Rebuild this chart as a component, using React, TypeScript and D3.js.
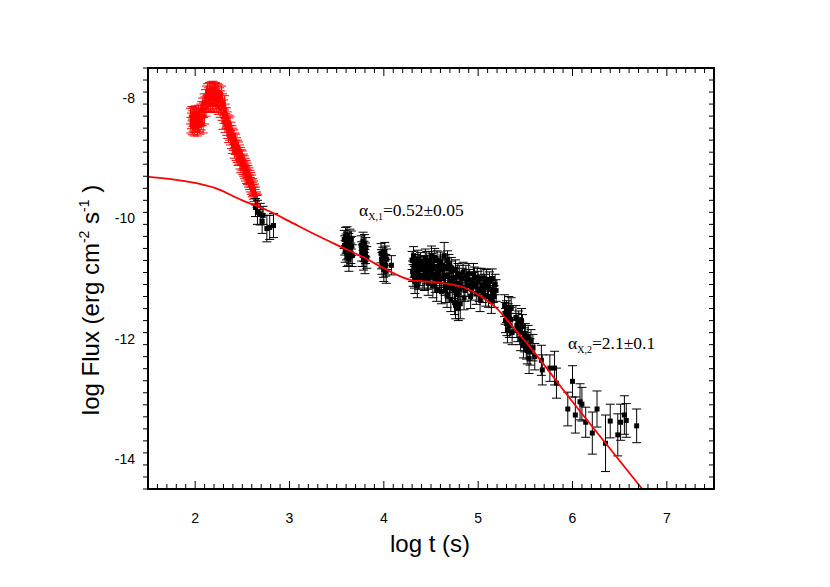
import React from "react";
import * as d3 from "d3";

// early flare (red): [log t, log F, error]
const flarePoints: [number, number, number][] = [
  [1.95, -8.3, 0.13], [1.955, -8.45, 0.13], [1.96, -8.38, 0.13], [1.965, -8.26, 0.12],
  [1.97, -8.48, 0.13], [1.975, -8.34, 0.13], [1.98, -8.42, 0.13], [1.985, -8.28, 0.12],
  [1.99, -8.5, 0.13], [1.995, -8.36, 0.13], [2.0, -8.25, 0.12], [2.005, -8.44, 0.13],
  [2.01, -8.32, 0.13], [2.015, -8.4, 0.13], [2.02, -8.27, 0.12], [2.025, -8.5, 0.13],
  [2.03, -8.35, 0.13], [2.035, -8.24, 0.12], [2.04, -8.43, 0.13], [2.045, -8.31, 0.13],
  [2.05, -8.47, 0.13], [2.055, -8.29, 0.12], [2.06, -8.22, 0.12], [2.065, -8.4, 0.13],
  [2.07, -8.18, 0.12], [2.075, -8.33, 0.13], [2.08, -8.12, 0.12], [2.085, -8.45, 0.13],
  [2.09, -8.2, 0.12], [2.095, -8.05, 0.12], [2.1, -8.3, 0.13],
  [2.105, -8.1, 0.12], [2.11, -7.98, 0.12], [2.115, -8.18, 0.12], [2.12, -7.92, 0.12],
  [2.125, -8.08, 0.12], [2.13, -7.88, 0.12], [2.135, -8.05, 0.12], [2.14, -7.95, 0.12],
  [2.145, -8.12, 0.12], [2.15, -7.86, 0.12], [2.155, -8.02, 0.12], [2.16, -7.92, 0.12],
  [2.165, -8.1, 0.12], [2.17, -7.85, 0.12], [2.175, -8.0, 0.12], [2.18, -7.9, 0.12],
  [2.185, -8.08, 0.12], [2.19, -7.84, 0.12], [2.195, -7.98, 0.12], [2.2, -8.1, 0.12],
  [2.205, -7.88, 0.12], [2.21, -8.02, 0.12], [2.215, -7.86, 0.12], [2.22, -8.06, 0.12],
  [2.225, -7.92, 0.12], [2.23, -8.12, 0.12], [2.235, -7.88, 0.12], [2.24, -8.0, 0.12],
  [2.245, -8.15, 0.12], [2.25, -7.9, 0.12], [2.255, -8.05, 0.12], [2.26, -7.95, 0.12],
  [2.265, -8.2, 0.12], [2.27, -8.0, 0.12], [2.275, -8.12, 0.12], [2.28, -7.92, 0.12],
  [2.285, -8.25, 0.12], [2.29, -8.05, 0.12], [2.295, -8.4, 0.12], [2.3, -8.15, 0.12],
  [2.305, -8.3, 0.12], [2.31, -8.08, 0.12], [2.315, -8.45, 0.12], [2.32, -8.22, 0.12],
  [2.325, -8.38, 0.12], [2.33, -8.28, 0.12], [2.335, -8.5, 0.12], [2.34, -8.35, 0.12],
  [2.345, -8.55, 0.12], [2.35, -8.4, 0.12], [2.355, -8.62, 0.12], [2.36, -8.45, 0.12],
  [2.365, -8.58, 0.12], [2.37, -8.42, 0.12], [2.375, -8.66, 0.12], [2.38, -8.52, 0.12],
  [2.385, -8.72, 0.12], [2.39, -8.58, 0.12], [2.395, -8.8, 0.12], [2.4, -8.62, 0.12],
  [2.405, -8.75, 0.12], [2.41, -8.65, 0.12], [2.415, -8.88, 0.12], [2.42, -8.7, 0.12],
  [2.425, -8.82, 0.12], [2.43, -8.72, 0.12], [2.435, -8.92, 0.12], [2.44, -8.78, 0.12],
  [2.445, -8.95, 0.12], [2.45, -8.82, 0.12], [2.455, -9.0, 0.12], [2.46, -8.85, 0.12],
  [2.465, -8.98, 0.12], [2.47, -8.9, 0.12], [2.475, -9.06, 0.12], [2.48, -8.94, 0.12],
  [2.485, -9.12, 0.12], [2.49, -8.98, 0.12], [2.495, -9.08, 0.12], [2.5, -9.0, 0.12],
  [2.505, -9.15, 0.12], [2.51, -9.05, 0.12], [2.515, -9.18, 0.12], [2.52, -9.08, 0.12],
  [2.525, -9.22, 0.12], [2.53, -9.12, 0.12], [2.535, -9.26, 0.12], [2.54, -9.16, 0.12],
  [2.545, -9.3, 0.12], [2.55, -9.2, 0.12], [2.555, -9.32, 0.12], [2.56, -9.24, 0.12],
  [2.565, -9.36, 0.12], [2.57, -9.28, 0.12], [2.575, -9.4, 0.12], [2.58, -9.32, 0.12],
  [2.585, -9.44, 0.12], [2.59, -9.36, 0.12], [2.595, -9.48, 0.12], [2.6, -9.4, 0.12],
  [2.605, -9.52, 0.12], [2.61, -9.46, 0.12], [2.615, -9.56, 0.12], [2.62, -9.5, 0.12],
  [2.625, -9.6, 0.12], [2.63, -9.55, 0.12], [2.635, -9.64, 0.12], [2.64, -9.6, 0.12],
  [2.645, -9.68, 0.1], [2.65, -9.66, 0.1], [2.655, -9.72, 0.1], [2.66, -9.7, 0.1],
];

// X-ray afterglow (black): [log t, log F, error]
const xrtPoints: [number, number, number][] = [
  [2.64, -9.82, 0.15], [2.66, -9.9, 0.2], [2.69, -9.93, 0.18], [2.71, -10.05, 0.2],
  [2.72, -9.95, 0.15], [2.76, -10.17, 0.22], [2.79, -10.15, 0.2], [2.83, -10.12, 0.2],
  [3.58, -10.35, 0.15], [3.585, -10.45, 0.16], [3.59, -10.55, 0.18], [3.595, -10.3, 0.15],
  [3.6, -10.42, 0.16], [3.605, -10.52, 0.17], [3.61, -10.62, 0.18], [3.61, -10.28, 0.14],
  [3.615, -10.38, 0.15], [3.62, -10.5, 0.17], [3.625, -10.6, 0.18], [3.63, -10.4, 0.15],
  [3.63, -10.68, 0.2], [3.64, -10.33, 0.15], [3.645, -10.48, 0.16], [3.65, -10.58, 0.17],
  [3.655, -10.36, 0.15], [3.66, -10.46, 0.16], [3.665, -10.62, 0.18],
  [3.76, -10.45, 0.16], [3.765, -10.55, 0.16], [3.77, -10.62, 0.18], [3.78, -10.38, 0.15],
  [3.785, -10.68, 0.18], [3.79, -10.55, 0.17], [3.795, -10.42, 0.15], [3.8, -10.72, 0.2],
  [3.805, -10.58, 0.17], [3.81, -10.48, 0.16], [3.82, -10.65, 0.18],
  [3.97, -10.58, 0.16], [3.975, -10.68, 0.16], [3.98, -10.75, 0.18], [3.99, -10.65, 0.17],
  [3.995, -10.8, 0.18], [4.0, -10.85, 0.2], [4.01, -10.55, 0.15], [4.015, -10.62, 0.16],
  [4.02, -10.78, 0.18], [4.025, -10.88, 0.2], [4.03, -10.68, 0.17], [4.08, -10.78, 0.16],
  [4.3, -10.7, 0.15], [4.305, -10.88, 0.17], [4.31, -10.95, 0.18], [4.315, -10.62, 0.15],
  [4.32, -10.82, 0.16], [4.325, -10.98, 0.18], [4.33, -11.05, 0.2], [4.34, -10.75, 0.15],
  [4.345, -10.85, 0.16], [4.35, -10.9, 0.17], [4.355, -11.12, 0.2], [4.36, -10.68, 0.15],
  [4.365, -10.8, 0.16], [4.37, -11.0, 0.18], [4.38, -10.85, 0.16], [4.385, -10.95, 0.17],
  [4.39, -10.72, 0.15], [4.405, -10.78, 0.16], [4.415, -10.98, 0.18], [4.42, -10.8, 0.16],
  [4.43, -11.02, 0.18], [4.435, -10.85, 0.17], [4.44, -10.66, 0.15], [4.45, -10.92, 0.17],
  [4.455, -10.7, 0.15], [4.46, -10.78, 0.16], [4.465, -11.0, 0.18], [4.47, -11.08, 0.2],
  [4.48, -10.7, 0.15], [4.485, -10.8, 0.16], [4.49, -10.88, 0.17], [4.5, -10.98, 0.18],
  [4.505, -10.62, 0.16], [4.51, -10.74, 0.16], [4.52, -11.12, 0.2], [4.525, -10.95, 0.17],
  [4.53, -10.84, 0.16], [4.54, -10.65, 0.15], [4.545, -11.05, 0.18], [4.55, -10.95, 0.17],
  [4.56, -11.18, 0.2], [4.565, -10.7, 0.16], [4.57, -10.8, 0.16], [4.58, -10.9, 0.17],
  [4.585, -10.82, 0.16], [4.59, -11.05, 0.18], [4.6, -10.72, 0.16], [4.605, -11.0, 0.18],
  [4.61, -11.22, 0.2], [4.62, -10.86, 0.17], [4.625, -10.78, 0.17], [4.63, -10.98, 0.17],
  [4.64, -10.62, 0.22], [4.645, -10.95, 0.17], [4.65, -11.1, 0.18], [4.655, -11.2, 0.2],
  [4.66, -10.82, 0.16], [4.67, -11.28, 0.2], [4.675, -10.7, 0.16], [4.68, -10.94, 0.17],
  [4.69, -10.76, 0.16], [4.695, -11.15, 0.18], [4.7, -11.05, 0.18], [4.71, -11.35, 0.2],
  [4.715, -10.82, 0.17], [4.72, -10.88, 0.17], [4.73, -11.15, 0.18], [4.735, -11.02, 0.18],
  [4.74, -10.98, 0.17], [4.75, -11.4, 0.2], [4.755, -11.2, 0.2], [4.76, -10.85, 0.16],
  [4.76, -11.45, 0.22], [4.77, -11.08, 0.18], [4.78, -11.25, 0.2], [4.785, -10.92, 0.17],
  [4.79, -11.5, 0.2], [4.8, -10.95, 0.17], [4.805, -11.18, 0.18], [4.81, -11.42, 0.25],
  [4.82, -11.12, 0.18], [4.83, -11.0, 0.17], [4.84, -10.9, 0.17], [4.85, -11.32, 0.2],
  [4.86, -11.2, 0.18], [4.87, -10.95, 0.17], [4.88, -11.02, 0.17], [4.89, -11.12, 0.18],
  [4.9, -10.92, 0.17], [4.91, -11.02, 0.17], [4.92, -11.3, 0.2], [4.93, -11.18, 0.18],
  [4.94, -11.08, 0.18], [4.95, -10.92, 0.17], [4.96, -10.98, 0.17], [4.97, -11.12, 0.17],
  [4.98, -11.25, 0.18], [4.99, -11.0, 0.17], [5.0, -11.05, 0.17], [5.01, -11.2, 0.18],
  [5.02, -11.35, 0.2], [5.03, -11.0, 0.17], [5.04, -11.12, 0.18], [5.05, -11.22, 0.18],
  [5.06, -11.0, 0.16], [5.07, -11.1, 0.17], [5.08, -11.28, 0.18], [5.09, -11.02, 0.17],
  [5.1, -11.15, 0.17], [5.11, -11.3, 0.18], [5.12, -11.05, 0.16], [5.13, -11.18, 0.18],
  [5.14, -11.38, 0.2], [5.15, -11.0, 0.16], [5.16, -11.22, 0.18], [5.17, -11.3, 0.18],
  [5.18, -11.1, 0.17], [5.19, -11.2, 0.18],
  [5.28, -11.45, 0.18], [5.285, -11.58, 0.18], [5.29, -11.7, 0.2], [5.3, -11.55, 0.18],
  [5.305, -11.75, 0.2], [5.31, -11.85, 0.22], [5.32, -11.6, 0.18], [5.325, -11.48, 0.18],
  [5.33, -11.78, 0.2], [5.345, -11.68, 0.2], [5.35, -11.5, 0.18], [5.36, -11.9, 0.2],
  [5.4, -11.65, 0.2], [5.41, -11.78, 0.2], [5.42, -11.85, 0.2], [5.43, -11.72, 0.18],
  [5.44, -11.9, 0.2], [5.45, -12.0, 0.2], [5.46, -11.7, 0.2], [5.47, -11.8, 0.2],
  [5.48, -12.1, 0.22], [5.49, -12.02, 0.2], [5.5, -11.95, 0.2], [5.51, -12.12, 0.22],
  [5.52, -12.2, 0.22], [5.53, -11.98, 0.2], [5.54, -12.33, 0.25], [5.55, -12.22, 0.22],
  [5.56, -12.05, 0.2], [5.58, -12.15, 0.22], [5.6, -12.3, 0.22],
  [5.67, -12.36, 0.25], [5.68, -12.52, 0.25], [5.76, -12.49, 0.22], [5.81, -12.49, 0.28],
  [5.83, -12.74, 0.25], [5.95, -13.17, 0.28], [6.0, -12.71, 0.26], [6.03, -13.27, 0.3],
  [6.08, -13.05, 0.3], [6.1, -13.09, 0.28], [6.14, -13.39, 0.25], [6.21, -13.57, 0.35],
  [6.26, -13.17, 0.3], [6.35, -13.74, 0.47], [6.4, -13.37, 0.28], [6.48, -13.6, 0.35],
  [6.51, -13.39, 0.3], [6.55, -13.27, 0.32], [6.57, -13.36, 0.28], [6.68, -13.45, 0.28],
];

// model fit curve
const modelCurve: [number, number][] = [
  [1.5, -9.31], [1.8, -9.36], [2.0, -9.41], [2.2, -9.49], [2.5, -9.7], [2.8, -9.89],
  [3.0, -10.05], [3.3, -10.29], [3.5, -10.44], [3.8, -10.66], [4.0, -10.83],
  [4.2, -10.98], [4.3, -11.03], [4.45, -11.05], [4.6, -11.07], [4.85, -11.15],
  [5.05, -11.32], [5.2, -11.5], [5.35, -11.77], [5.55, -12.14], [6.0, -13.05],
  [6.5, -14.03], [6.8, -14.62],
];

const xTicks = [2, 3, 4, 5, 6, 7];
const yTicks = [-8, -10, -12, -14];

const W = 830;
const H = 587;
const left = 148, right = 714, top = 68, bottom = 489;

const x = d3.scaleLinear().domain([1.5, 7.5]).range([left, right]);
const y = d3.scaleLinear().domain([-14.5, -7.5]).range([bottom, top]);

const xMinor = d3.range(15, 76, 1).map((v) => v / 10);
const yMinor = d3.range(-145, -74, 2).map((v) => v / 10);

function ErrorBars({ data, color, size }: { data: [number, number, number][]; color: string; size: number }) {
  return (
    <g stroke={color} fill={color} strokeWidth={1}>
      {data.map(([t, f, e], i) => {
        const cx = x(t);
        const y0 = y(f + e);
        const y1 = y(f - e);
        return (
          <g key={i}>
            <line x1={cx} x2={cx} y1={y0} y2={y1} />
            <line x1={cx - 4.5} x2={cx + 4.5} y1={y0} y2={y0} />
            <line x1={cx - 4.5} x2={cx + 4.5} y1={y1} y2={y1} />
            <rect x={cx - size / 2} y={y(f) - size / 2} width={size} height={size} stroke="none" />
          </g>
        );
      })}
    </g>
  );
}

export default function App() {
  const line = d3
    .line<[number, number]>()
    .x((d) => x(d[0]))
    .y((d) => y(d[1]))
    .curve(d3.curveMonotoneX);

  const sans = "'Liberation Sans', Arial, sans-serif";
  const serif = "'Liberation Serif', 'Times New Roman', serif";

  return (
    <svg width={W} height={H} style={{ position: "absolute", left: 0, top: 0, background: "#fff" }}>
      <defs>
        <clipPath id="plot">
          <rect x={left} y={top} width={right - left} height={bottom - top} />
        </clipPath>
      </defs>

      <g clipPath="url(#plot)">
        <ErrorBars data={flarePoints} color="#ff0000" size={3} />
        <ErrorBars data={xrtPoints} color="#000" size={5} />
        <path d={line(modelCurve) || ""} fill="none" stroke="#ff0000" strokeWidth={1.8} />
      </g>

      {/* ticks: left outward, others inward */}
      <g stroke="#000" strokeWidth={1}>
        {xMinor.map((v) => {
          const major = xTicks.some((t) => Math.abs(t - v) < 1e-6);
          const len = major ? 8 : 5;
          return (
            <g key={"x" + v}>
              <line x1={x(v)} x2={x(v)} y1={bottom} y2={bottom - len} />
              <line x1={x(v)} x2={x(v)} y1={top} y2={top + len} />
            </g>
          );
        })}
        {yMinor.map((v) => {
          const major = yTicks.some((t) => Math.abs(t - v) < 1e-6);
          const len = major ? 9 : 5;
          return (
            <g key={"y" + v}>
              <line x1={left} x2={left - len} y1={y(v)} y2={y(v)} />
              <line x1={right} x2={right - len} y1={y(v)} y2={y(v)} />
            </g>
          );
        })}
      </g>

      <rect x={left} y={top} width={right - left} height={bottom - top} fill="none" stroke="#000" strokeWidth={2} />

      <g fontFamily={sans} fontSize={14} fill="#000">
        {xTicks.map((t) => (
          <text key={t} x={x(t)} y={523} textAnchor="middle">
            {t}
          </text>
        ))}
        {yTicks.map((t) => (
          <text key={t} x={135} y={y(t) + 5} textAnchor="end">
            {t}
          </text>
        ))}
      </g>

      <text x={430} y={552} textAnchor="middle" fontFamily={sans} fontSize={24}>
        log t (s)
      </text>
      <text
        transform="translate(99,300) rotate(-90)"
        textAnchor="middle"
        fontFamily={sans}
        fontSize={24}
      >
        log Flux (erg cm
        <tspan fontSize={14} dy={-10}>-2</tspan>
        <tspan dy={10}> s</tspan>
        <tspan fontSize={14} dy={-10}>-1</tspan>
        <tspan dy={10}> )</tspan>
      </text>

      <text x={359} y={216} fontFamily={serif} fontSize={17.5}>
        α<tspan fontSize={10} dy={4}>X,1</tspan>
        <tspan dy={-4}>=0.52±0.05</tspan>
      </text>
      <text x={568} y={349} fontFamily={serif} fontSize={17.5}>
        α<tspan fontSize={10} dy={4}>X,2</tspan>
        <tspan dy={-4}>=2.1±0.1</tspan>
      </text>
    </svg>
  );
}
